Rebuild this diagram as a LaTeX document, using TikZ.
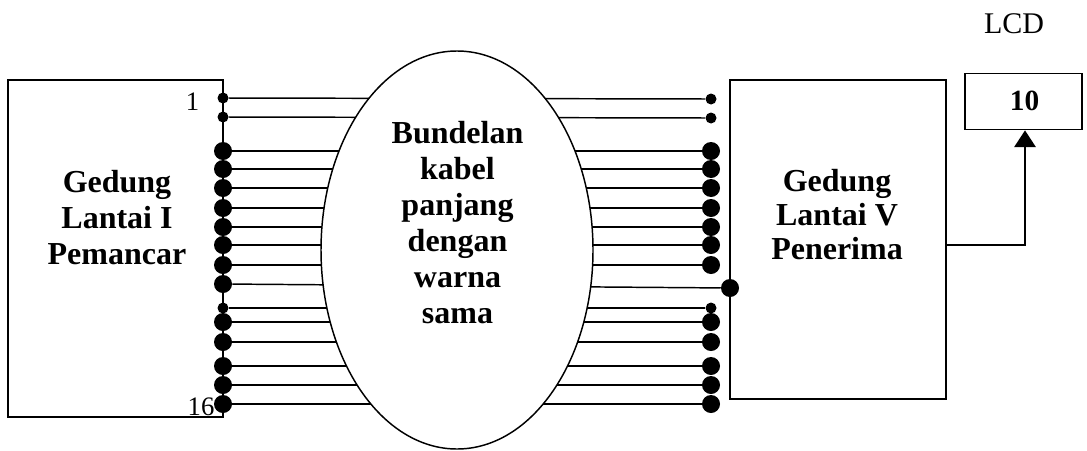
\documentclass[tikz,border=0pt]{standalone}
\usepackage{fontspec}
\setmainfont{Liberation Serif}
\usetikzlibrary{arrows.meta,shapes.geometric}
\begin{document}
\begin{tikzpicture}[x=0.75pt,y=-0.75pt,
  wire/.style={line width=1.1pt},
  box/.style={draw, line width=1.3pt, rectangle, inner sep=0},
  dot/.style={circle, fill=black, inner sep=0},
  title/.style={font=\bfseries\fontsize{24}{27}\selectfont, align=center, inner sep=0},
  pin/.style={font=\fontsize{20}{24}\selectfont, inner sep=0, anchor=base},
]
\useasboundingbox (0,0) rectangle (1087,450);
% boxes
\node[box, minimum width=161.25pt, minimum height=252.75pt] (tx) at (115.5,248.5) {};
\node[box, minimum width=162pt, minimum height=239.25pt] (rx) at (838,239.5) {};
\node[box, minimum width=87.75pt, minimum height=42pt] (lcd) at (1023.5,101.5) {};
% dots
\foreach \i/\yl/\xr/\yr/\d in {1/98/711/99/8.25pt, 2/117/711/118/8.25pt,
  3/151/711/151/13.5pt, 4/169/711/169/13.5pt, 5/188/711/188/13.5pt,
  6/208/711/208/13.5pt, 7/227/711/227/13.5pt, 8/245/711/245/13.5pt,
  9/265/711/265/13.5pt, 10/284/730/288/13.5pt, 11/308/711/308/8.25pt,
  12/322/711/322/13.5pt, 13/342/711/342/13.5pt, 14/366/711/366/13.5pt,
  15/385/711/385/13.5pt, 16/404/711/404/13.5pt}{
  \node[dot, minimum size=\d] (L\i) at (223,\yl) {};
  \node[dot, minimum size=\d] (R\i) at (\xr,\yr) {};
  \draw[wire] (L\i) -- (R\i);
}
% cable bundle
\node[draw, ellipse, fill=white, line width=1.1pt, inner sep=0,
  minimum width=204pt, minimum height=298.5pt] (bundle) at (457,250) {};
\node[title, font=\bfseries\fontsize{24}{27}\selectfont] (bt) at (457.5,222.5)
  {Bundelan\\kabel\\panjang\\dengan\\warna\\sama};
\node[title] (txt) at (117,217.5) {Gedung\\Lantai I\\Pemancar};
\node[title, font=\bfseries\fontsize{24}{25.5}\selectfont] (rxt) at (837,215)
  {Gedung\\Lantai V\\Penerima};
% pin labels
\node[pin] (p1) at (192.5,110) {1};
\node[pin] (p16) at (201,415) {16};
% LCD
\node[font=\fontsize{22.5}{26}\selectfont, inner sep=0, anchor=base] (lcdl) at (1014,33) {LCD};
\node[font=\bfseries\fontsize{22}{26}\selectfont, inner sep=0, anchor=base] (val) at (1024.5,110) {10};
\coordinate (turn) at (1025,245);
\draw[line width=1.2pt, -{Triangle[length=12.5pt,width=16pt]}]
  (rx.east |- turn) -- (turn) -- (lcd.south -| turn);
\end{tikzpicture}
\end{document}
